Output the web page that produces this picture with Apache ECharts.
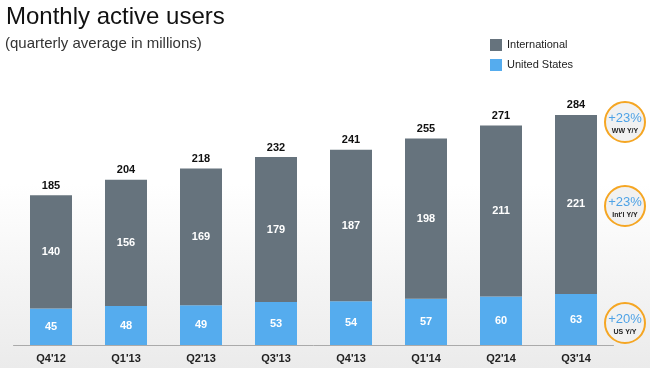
<!DOCTYPE html>
<html><head><meta charset="utf-8">
<script src="https://cdn.jsdelivr.net/npm/echarts@6/dist/echarts.min.js"></script>
<style>html,body{margin:0;padding:0;background:#fff}#c{width:650px;height:368px}</style>
</head><body><div id="c"></div>
<script>
const categories = ["Q4'12","Q1'13","Q2'13","Q3'13","Q4'13","Q1'14","Q2'14","Q3'14"];
const usValues = [45,48,49,53,54,57,60,63];
const intlValues = [140,156,169,179,187,198,211,221];
const totals = [185,204,218,232,241,255,271,284];
const growthBadges = [
  {pct:'+23%', label:'WW Y/Y'},
  {pct:'+23%', label:'Int\'l Y/Y'},
  {pct:'+20%', label:'US Y/Y'}
];
const badgeY = [122, 206, 323];

const chart = echarts.init(document.getElementById('c'));
const font = 'Liberation Sans, Arial, sans-serif';
const graphics = [];
growthBadges.forEach((b,i)=>{
  graphics.push({type:'circle', shape:{cx:625, cy:badgeY[i], r:20},
    style:{fill:'#f1f1f1', stroke:'#f5a623', lineWidth:2}, z:10});
  graphics.push({type:'text', x:625, y:badgeY[i]-4, style:{text:b.pct, fill:'#4fa3e6', font:'13px '+font, align:'center', verticalAlign:'middle'}, z:11});
  graphics.push({type:'text', x:625, y:badgeY[i]+9, style:{text:b.label, fill:'#222', font:'bold 7px '+font, align:'center', verticalAlign:'middle'}, z:11});
});

chart.setOption({
  backgroundColor: {type:'linear', x:0, y:0, x2:0, y2:1, colorStops:[{offset:0,color:'#ffffff'},{offset:0.5,color:'#ffffff'},{offset:1,color:'#ebebeb'}]},
  animation:false,
  textStyle:{fontFamily:font},
  title:[
    {text:'Monthly active users', left:1, top:0, textStyle:{fontSize:24, fontWeight:'normal', color:'#111', fontFamily:font}},
    {text:'(quarterly average in millions)', left:0, top:31, textStyle:{fontSize:15, fontWeight:'normal', color:'#333', fontFamily:font}}
  ],
  legend:{data:['International','United States'], orient:'vertical', left:485, top:34, itemWidth:12, itemHeight:12, itemGap:8,
    icon:'rect',
    textStyle:{fontSize:11, color:'#222', fontFamily:font}},
  grid:{left:13.5, right:36.5, top:102, bottom:23},
  xAxis:{type:'category', data:categories, axisTick:{show:false},
    axisLine:{lineStyle:{color:'#aaa', width:1}},
    axisLabel:{fontWeight:'bold', fontSize:11, color:'#222', margin:8}},
  yAxis:{type:'value', min:0, max:300, show:false, splitLine:{show:false}},
  series:[
    {name:'United States', type:'bar', stack:'t', data:usValues, barWidth:42, itemStyle:{color:'#55acee'},
      label:{show:true, position:'inside', color:'#fff', fontWeight:'bold', fontSize:11}},
    {name:'International', type:'bar', stack:'t', data:intlValues, barWidth:42, itemStyle:{color:'#66737d'},
      label:{show:true, position:'inside', color:'#fff', fontWeight:'bold', fontSize:11}},
    {name:'Total', type:'bar', stack:'t', data:totals.map(()=>0), barWidth:42, itemStyle:{color:'transparent'},
      label:{show:true, position:'top', distance:4, color:'#111', fontWeight:'bold', fontSize:11,
        formatter:p=>totals[p.dataIndex]}}
  ],
  graphic:graphics
});
</script></body></html>
